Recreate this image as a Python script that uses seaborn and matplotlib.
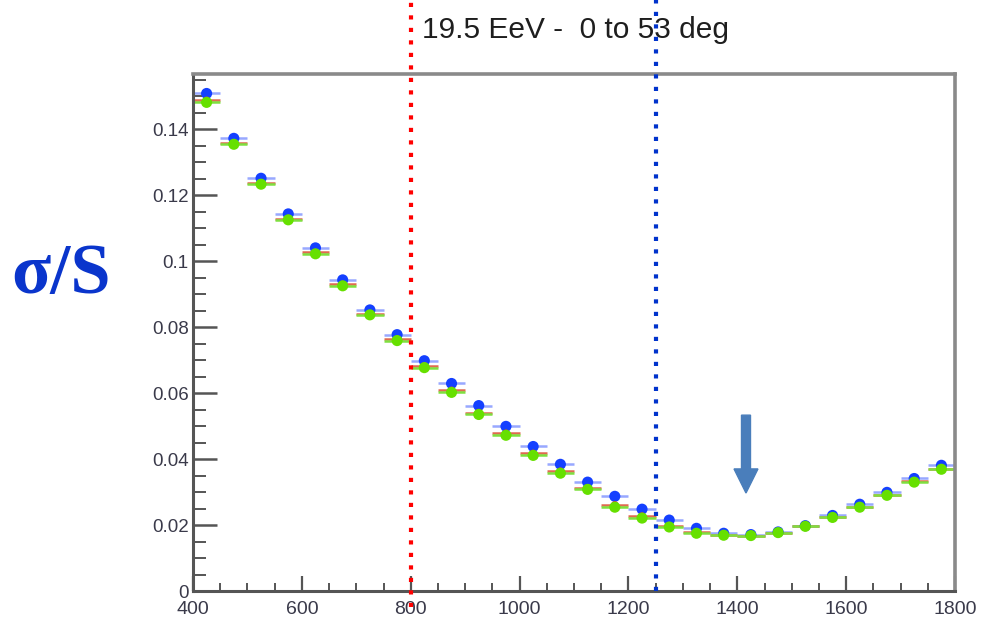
import numpy as np
import pandas as pd
import matplotlib
matplotlib.use("Agg")
import matplotlib.pyplot as plt
import seaborn as sns
from matplotlib.patches import FancyArrow, Rectangle
from matplotlib.ticker import MultipleLocator

# ---- data ----
bin_centers = [425, 475, 525, 575, 625, 675, 725, 775, 825, 875, 925, 975, 1025, 1075,
               1125, 1175, 1225, 1275, 1325, 1375, 1425, 1475, 1525, 1575, 1625, 1675, 1725, 1775]
blue_vals = [0.1508, 0.1372, 0.1251, 0.1143, 0.1040, 0.0943, 0.0852, 0.0777, 0.0698, 0.0629,
             0.0562, 0.0499, 0.0438, 0.0384, 0.0330, 0.0287, 0.0248, 0.0215, 0.0190, 0.0175,
             0.0171, 0.0179, 0.0198, 0.0229, 0.0263, 0.0299, 0.0341, 0.0381]
green_vals = [0.1481, 0.1354, 0.1233, 0.1125, 0.1022, 0.0925, 0.0837, 0.0759, 0.0677, 0.0602,
              0.0535, 0.0472, 0.0411, 0.0357, 0.0308, 0.0254, 0.0221, 0.0194, 0.0175, 0.0169,
              0.0168, 0.0177, 0.0196, 0.0223, 0.0254, 0.0290, 0.0330, 0.0369]
red_vals = [0.1487, 0.1358, 0.1237, 0.1129, 0.1026, 0.0929, 0.0840, 0.0763, 0.0682, 0.0608,
            0.0541, 0.0478, 0.0417, 0.0363, 0.0313, 0.0261, 0.0227, 0.0198, 0.0178, 0.0170,
            0.0168, 0.0177, 0.0196, 0.0224, 0.0256, 0.0292, 0.0332, 0.0371]
bin_half_width = 25
series_names = ["blue", "red", "green"]
series_colors = {"blue": "#1440ff", "red": "#e03a2a", "green": "#66e000"}
bar_colors = {"blue": "#98a8ff", "red": "#e06a50", "green": "#7ee040"}
title = "19.5 EeV -  0 to 53 deg"
ylabel = "σ/S"
red_cut = 800
blue_cut = 1250
arrow_x = 1416
arrow_tail, arrow_tip = 0.0533, 0.0297

df = pd.DataFrame({
    "E": bin_centers * 3,
    "val": blue_vals + red_vals + green_vals,
    "series": ["blue"] * len(bin_centers) + ["red"] * len(bin_centers) + ["green"] * len(bin_centers),
})

sns.set_style("white")
plt.rcParams["font.family"] = ["Liberation Sans", "DejaVu Sans"]

fig = plt.figure(figsize=(9.86, 6.2), dpi=100)
ax = fig.add_axes([193 / 986, 1 - 591 / 620, 762 / 986, 517 / 620])

# horizontal bin-width bars
for name, vals in zip(series_names, [blue_vals, red_vals, green_vals]):
    ax.errorbar(bin_centers, vals, xerr=bin_half_width, fmt="none",
                ecolor=bar_colors[name], elinewidth=1.8, capsize=0, zorder=2)

sns.scatterplot(data=df, x="E", y="val", hue="series", hue_order=series_names,
                palette=series_colors, s=[64 if n != "red" else 30 for n in df["series"]],
                edgecolor="none", legend=False, ax=ax, zorder=3)

ax.set_xlim(400, 1800)
ax.set_ylim(0, 0.1567)
ax.set_xlabel("")
ax.set_ylabel("")
ax.xaxis.set_minor_locator(MultipleLocator(50))
ax.yaxis.set_minor_locator(MultipleLocator(0.005))
ax.set_xticks([400, 600, 800, 1000, 1200, 1400, 1600, 1800])
ax.set_xticklabels(["400", "600", "800", "1000", "1200", "1400", "1600", "1800"])
ax.set_yticks([0, 0.02, 0.04, 0.06, 0.08, 0.1, 0.12, 0.14])
ax.set_yticklabels(["0", "0.02", "0.04", "0.06", "0.08", "0.1", "0.12", "0.14"])

ax.tick_params(axis="x", which="major", direction="in", length=11, width=1.6,
               color="#555555", labelsize=14, labelcolor="#3a3a4a", pad=7)
ax.tick_params(axis="x", which="minor", direction="in", length=6, width=1.4, color="#555555")
ax.tick_params(axis="y", which="major", direction="in", length=17, width=1.8,
               color="#555555", labelsize=13.5, labelcolor="#3a3a4a", pad=3)
ax.tick_params(axis="y", which="minor", direction="in", length=9, width=1.4, color="#555555")
ax.tick_params(bottom=True, left=True, top=False, right=False, which="both")

for s in ["left", "bottom"]:
    ax.spines[s].set_color("#555555")
    ax.spines[s].set_linewidth(2.2)
for s in ["top", "right"]:
    ax.spines[s].set_color("#8a8a8a")
    ax.spines[s].set_linewidth(2.6)

# dotted cut lines
ax.axvline(red_cut, ymin=-0.03, ymax=1 + 74 / 517, color="#ff0000", lw=3.0,
           linestyle=(0, (1, 2)), clip_on=False, zorder=6)
ax.axvline(blue_cut, ymin=0, ymax=1 + 74 / 517, color="#0033cc", lw=3.0,
           linestyle=(0, (1, 2)), clip_on=False, zorder=6)

# arrow
ax.add_patch(FancyArrow(arrow_x, arrow_tail, 0, arrow_tip - arrow_tail, width=16.5,
                        head_width=44, head_length=0.0073, length_includes_head=True,
                        color="#4a7ebb", zorder=7))

# white crop on the left (reference image is cut there)
fig.patches.append(Rectangle((0, 0), 153 / 986, 1 - 90 / 620, transform=fig.transFigure,
                             facecolor="white", edgecolor="none", zorder=5))

fig.text(575 / 986, 1 - 38 / 620, title, ha="center", va="baseline",
         fontsize=21.5, color="#1e1e1e", zorder=10)
fig.text(61 / 986, 1 - 276 / 620, ylabel, ha="center", va="center",
         fontsize=52, fontweight="bold", color="#0a35cc",
         family=["Liberation Serif", "DejaVu Serif"], zorder=10)

fig.savefig("out.png", dpi=100, facecolor="white")
